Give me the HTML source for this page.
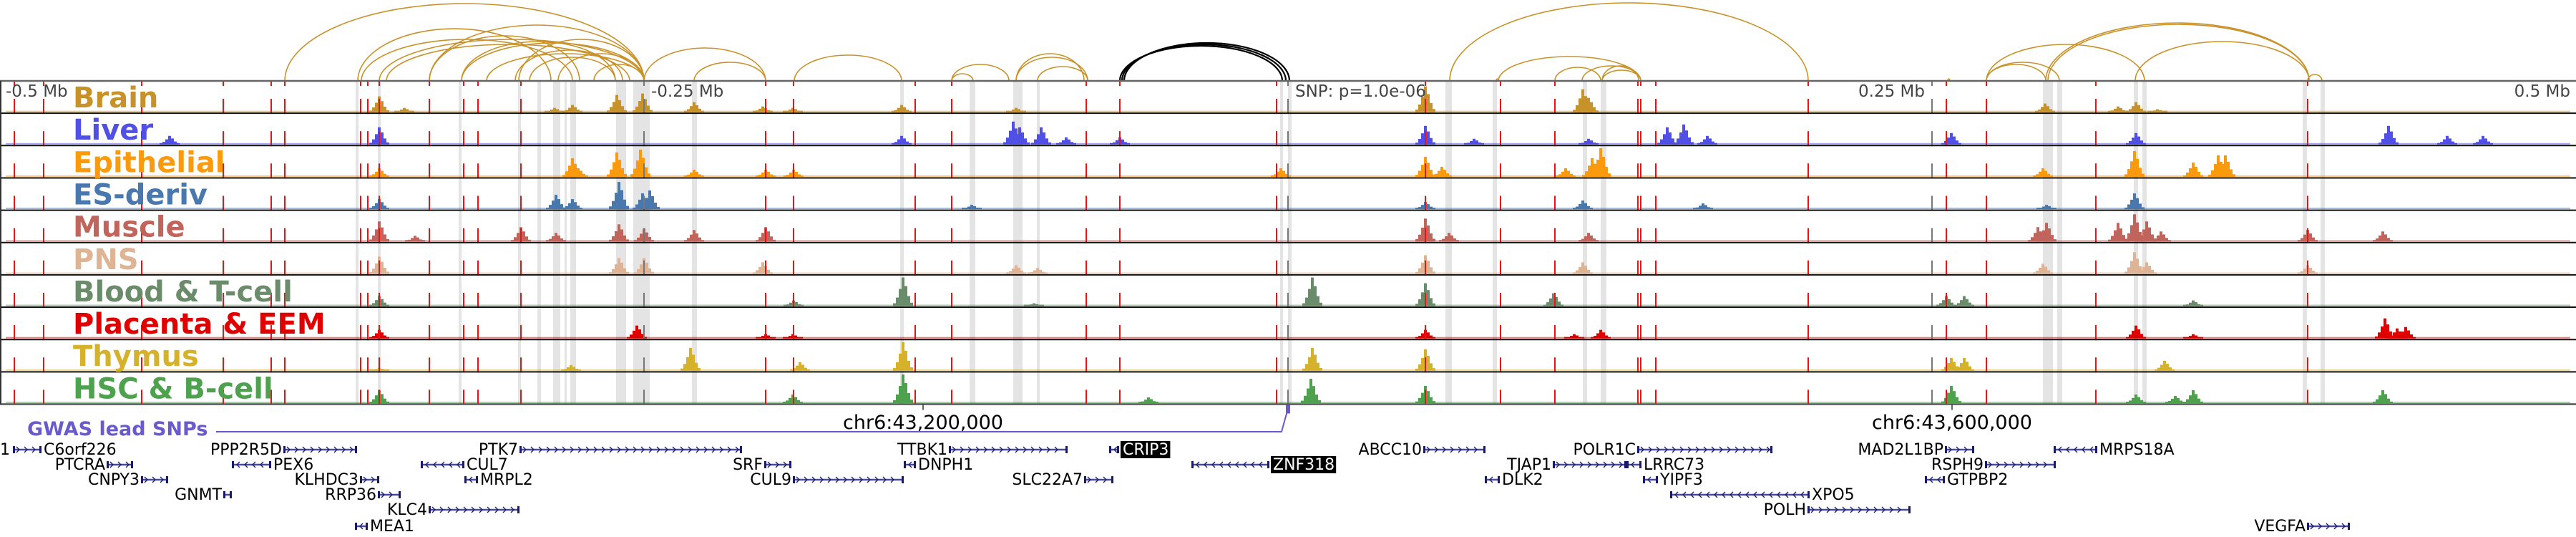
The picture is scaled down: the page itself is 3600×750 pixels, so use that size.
<!DOCTYPE html>
<html><head><meta charset="utf-8"><style>
html,body{margin:0;padding:0;background:#fff;}
svg{display:block;font-family:"DejaVu Sans","Liberation Sans",sans-serif;}
</style></head><body>
<svg id="chart" width="3600" height="750" viewBox="0 0 3600 750" xmlns="http://www.w3.org/2000/svg">
<g id="bands"></g>
<g id="arcs"></g>
<g id="tracks"></g>
<g id="vlines"></g>
<g id="frame"></g>
<g id="labels"></g>
<g id="axis"></g>
<g id="genes"></g>
</svg>
<script>
const NBINS = 3600;
const trackNames = ["Brain","Liver","Epithelial","ES-deriv","Muscle","PNS","Blood & T-cell","Placenta & EEM","Thymus","HSC & B-cell"];
const trackColors = ["#c8922a","#5050e6","#fb9a0c","#4878ae","#c0645c","#deb494","#6a8c6a","#e00000","#d6b22a","#4ea24e"];
const peaksBrain = [[530,.55],[565,.15],[775,.15],[800,.25],[862,.6],[898,.65],[970,.35],[1066,.2],[1108,.15],[1260,.25],[1420,.15],[1992,.9],[2212,.8],[2220,.5],[2858,.3],[2960,.2],[2985,.35],[3015,.1]];
const peaksLiver = [[237,.3],[530,.6],[1260,.3],[1416,.8],[1425,.6],[1455,.6],[1490,.25],[1565,.25],[1992,.65],[2060,.2],[2220,.2],[2330,.6],[2353,.7],[2386,.3],[2727,.4],[2985,.4],[3338,.65],[3420,.3],[3470,.3]];
const peaksEpi = [[530,.3],[800,.65],[808,.3],[862,.85],[895,.95],[970,.25],[1070,.25],[1109,.25],[1790,.3],[1992,.7],[2015,.35],[2188,.3],[2225,.65],[2237,1.0],[2855,.3],[2983,.9],[3065,.5],[3100,.75],[3110,.75]];
const peaksES = [[530,.35],[777,.5],[800,.35],[865,.95],[898,.55],[908,.65],[1358,.15],[1992,.25],[2212,.3],[2380,.2],[2860,.15],[2983,.55]];
const peaksMuscle = [[530,.7],[580,.2],[728,.5],[777,.3],[865,.6],[900,.45],[970,.4],[1070,.5],[1992,.8],[2025,.3],[2220,.3],[2848,.5],[2860,.65],[2960,.65],[2983,.95],[3000,.7],[3020,.35],[3225,.4],[3330,.35]];
const peaksPNS = [[530,.6],[865,.55],[900,.55],[1066,.4],[1420,.3],[1450,.2],[1992,.65],[2212,.4],[2855,.35],[2983,.75],[3000,.4],[3225,.3]];
const peaksBlood = [[530,.35],[1109,.2],[1262,1.0],[1445,.1],[1834,1.0],[1992,.8],[2171,.45],[2720,.35],[2745,.35],[3065,.2]];
const peaksPlacenta = [[530,.3],[890,.45],[1070,.15],[1108,.15],[1992,.3],[2200,.15],[2237,.3],[2985,.45],[3065,.15],[3333,.7],[3350,.35],[3362,.4]];
const peaksThymus = [[530,.1],[798,.2],[965,.8],[1118,.3],[1262,1.0],[1834,.8],[1992,.75],[2727,.45],[2745,.45],[3025,.35]];
const peaksHSC = [[530,.45],[1108,.3],[1262,1.0],[1605,.2],[1832,.85],[1992,.6],[2727,.6],[2985,.3],[3040,.25],[3065,.45],[3330,.45]];
const trackPeaks = [peaksBrain,peaksLiver,peaksEpi,peaksES,peaksMuscle,peaksPNS,peaksBlood,peaksPlacenta,peaksThymus,peaksHSC];
const variantPos = [20,61,198,312,379,398,504,514,530,600,648,668,728,1070,1109,1279,1330,1518,1565,1784,1992,2097,2173,2289,2293,2314,2527,2720,2776,2929,3225];
const markerPos = [900,1800,2700];
const bandStart = [497,528,641,724,751,773,789,797,861,885,967,1258,1355,1416,1449,1789,1800,2020,2086,2212,2237,2855,2875,2982,2994,3218,3243];
const bandEnd   = [501,532,645,728,756,783,792,805,875,908,974,1263,1363,1429,1453,1793,1805,2029,2092,2218,2245,2869,2882,2988,3000,3224,3249];
const arcsBrain = [[398,900,108],[500,770,73],[505,800,58],[530,900,58],[600,900,78],[645,900,53],[600,810,63],[645,860,55],[725,900,58],[720,870,43],[680,900,38],[740,860,33],[780,900,38],[540,880,51],[830,900,23],[900,1070,46],[970,1070,26],[1110,1260,36],[1330,1410,23],[1330,1360,10],[1420,1520,33],[1420,1515,38],[1450,1520,20],
  [2026,2527,109],[2094,2293,34],[2173,2237,19],[2239,2290,21],[2239,2293,15],[2211,2293,21],[2091,2094,3],[2722,2725,3],[2776,2997,51],[2776,2878,26],[2776,2859,23],[2859,3227,81],[2862,3227,79],[2984,3227,55],[3225,3245,9]];
const arcsSNP = [[1565,1792,49],[1568,1797,51],[1571,1802,53]];
const axisTicks = ["-0.5 Mb","-0.25 Mb","SNP: p=1.0e-06","0.25 Mb","0.5 Mb"];
const axisTickPos = [0,900,1800,2700,3600];
const coordLabels = ["chr6:43,200,000","chr6:43,600,000"];
const coordPos = [1290,2728];
const genes = [["C6orf226",1,18,58,1,"R",0],["PPP2R5D",1,396,499,1,"L",0],["PTK7",1,726,1037,1,"L",0],["TTBK1",1,1326,1492,1,"L",0],["CRIP3",1,1550,1564,-1,"R",1],["ABCC10",1,1989,2076,1,"L",0],["POLR1C",1,2288,2477,1,"L",0],["MAD2L1BP",1,2718,2759,1,"L",0],["MRPS18A",1,2870,2931,-1,"R",0],
["PTCRA",2,149,186,1,"L",0],["PEX6",2,324,379,-1,"R",0],["CUL7",2,588,649,-1,"R",0],["SRF",2,1068,1106,1,"L",0],["DNPH1",2,1263,1280,-1,"R",0],["ZNF318",2,1665,1774,-1,"R",1],["TJAP1",2,2170,2273,1,"L",0],["LRRC73",2,2273,2294,-1,"R",0],["RSPH9",2,2774,2873,1,"L",0],
["CNPY3",3,197,235,1,"L",0],["KLHDC3",3,503,530,1,"L",0],["MRPL2",3,649,668,-1,"R",0],["CUL9",3,1108,1263,1,"L",0],["SLC22A7",3,1515,1556,1,"L",0],["DLK2",3,2075,2096,-1,"R",0],["YIPF3",3,2296,2317,-1,"R",0],["GTPBP2",3,2690,2718,-1,"R",0],
["GNMT",4,312,324,1,"L",0],["RRP36",4,528,560,1,"L",0],["XPO5",4,2334,2529,-1,"R",0],
["KLC4",5,599,726,1,"L",0],["POLH",5,2526,2670,1,"L",0],
["MEA1",6,496,514,-1,"R",0],["VEGFA",6,3224,3284,1,"L",0]];

const W = 3600, TOP = 113, TH = 45.15, NT = 10, BOT = TOP + TH*NT;
const NS = "http://www.w3.org/2000/svg";
function x(p){ return p / NBINS * W; }
function ty(i){ return TOP + i*TH; }
function hScale(v){ return v * 40; }
function mk(tag, attrs, parent){ const e=document.createElementNS(NS,tag); for(const k in attrs) e.setAttribute(k,attrs[k]); parent.appendChild(e); return e; }
const G = id => document.getElementById(id);

bandStart.forEach((s,i)=>{
  const r = mk("rect",{x:x(s),y:TOP,width:Math.max(2,x(bandEnd[i])-x(s)),height:BOT-TOP,fill:"#e4e4e4"},G("bands"));
  
  
});

function drawArc(a,color,sw,parent){
  const x1=x(a[0]), x2=x(a[1]), rx=(x2-x1)/2, ry=a[2];
  return mk("path",{d:`M${x1},${TOP} A${rx},${ry} 0 0 1 ${x2},${TOP}`,fill:"none",stroke:color,"stroke-width":sw},parent);
}
arcsBrain.forEach(a=>{ const p=drawArc(a,"#c8922a",1.6,G("arcs"));
  
   });
arcsSNP.forEach(a=>{ const p=drawArc(a,"#000",2.2,G("arcs"));
  
   });

const offs=[-14,-10,-6,-2,2,6,10], mult=[.1,.3,.6,1,.7,.35,.12];
trackPeaks.forEach((peaks,t)=>{
  const g = mk("g",{},G("tracks"));
  
  
  const base = ty(t) + TH - 1.5, col = trackColors[t];
  mk("rect",{x:8,y:base-2,width:W-16,height:2,fill:col,opacity:.5},g);
  peaks.forEach(pk=>{
    offs.forEach((o,k)=>{
      const h = Math.max(2,hScale(pk[1]*mult[k]));
      const b = mk("rect",{x:x(pk[0])+o,y:base-h,width:4,height:h,fill:col},g);
      
      
    });
  });
});

function dashedLine(p,color,parent){
  for(let t=0;t<NT;t++){
    mk("line",{x1:x(p),x2:x(p),y1:ty(t)+25,y2:ty(t)+TH+1,stroke:color,"stroke-width":2},parent);
  }
  mk("line",{x1:x(p),x2:x(p),y1:TOP,y2:TOP+7,stroke:color,"stroke-width":2},parent);
}
variantPos.forEach(p=>{ const g=mk("g",{},G("vlines"));
  
  
  dashedLine(p,"#ee1111",g); });
markerPos.forEach(p=>{ const g=mk("g",{},G("vlines"));
  
  
  dashedLine(p,"#777",g); });

mk("line",{x1:0,x2:W,y1:TOP,y2:TOP,stroke:"#666","stroke-width":2.5},G("frame"));
for(let t=1;t<NT;t++) mk("line",{x1:0,x2:W,y1:ty(t),y2:ty(t),stroke:"#111","stroke-width":2},G("frame"));
mk("line",{x1:0,x2:W,y1:BOT,y2:BOT,stroke:"#555","stroke-width":2.5},G("frame"));
mk("line",{x1:1,x2:1,y1:TOP,y2:BOT,stroke:"#333","stroke-width":2},G("frame"));

trackNames.forEach((n,t)=>{
  const e = mk("text",{x:102,y:ty(t)+37,fill:trackColors[t],"font-size":40,"font-weight":"bold"},G("labels"));
  e.textContent=n;
  
  
});

axisTicks.forEach((s,i)=>{
  const px = x(axisTickPos[i]);
  let tx = px+10, anchor="start";
  if(i===0) tx=8;
  if(i===3){ tx=px-10; anchor="end"; }
  if(i===4){ tx=px-8; anchor="end"; }
  const e = mk("text",{x:tx,y:135,fill:"#444","font-size":23,"text-anchor":anchor},G("axis"));
  e.textContent=s;
  
  
});
coordLabels.forEach((s,i)=>{
  const px=x(coordPos[i]);
  mk("line",{x1:px,x2:px,y1:BOT,y2:BOT+8,stroke:"#333","stroke-width":1.5},G("axis"));
  const e = mk("text",{x:px,y:599,fill:"#000","font-size":27,"text-anchor":"middle"},G("axis"));
  e.textContent=s;
  
  
});
{
  const e = mk("text",{x:38,y:608,fill:"#6a5acd","font-size":27,"font-weight":"bold"},G("axis"));
  e.textContent="GWAS lead SNPs";
  
  
  const l = mk("polyline",{points:`302,603 1791,603 ${x(1800)},${BOT+6}`,fill:"none",stroke:"#6a5acd","stroke-width":2},G("axis"));
  
  
  const m = mk("rect",{x:x(1800)-3,y:BOT+1,width:6,height:12,fill:"#6a5acd"},G("axis"));
  
  
}

const rowBase=[0,635,656,677,698,719,742];
const edge = mk("text",{x:0,y:635,"font-size":22,fill:"#000"},G("genes"));
edge.textContent="1";


genes.forEach(gn=>{
  const [name,row,s,e,strand,side,boxed]=gn;
  const g = mk("g",{},G("genes"));
  
  
  const x1=x(s), x2=x(e), yb=rowBase[row], yc=yb-7;
  mk("line",{x1:x1,x2:x2,y1:yc,y2:yc,stroke:"#4a4a9a","stroke-width":2.5},g);
  mk("rect",{x:x1,y:yc-5,width:3,height:10,fill:"#1a1a6a"},g);
  mk("rect",{x:x2-3,y:yc-5,width:3,height:10,fill:"#1a1a6a"},g);
  for(let px=x1+8; px<x2-4; px+=11){
    const d = strand>0 ? `M${px-3},${yc-4} L${px+1},${yc} L${px-3},${yc+4}` : `M${px+3},${yc-4} L${px-1},${yc} L${px+3},${yc+4}`;
    mk("path",{d:d,fill:"none",stroke:"#1a1a6a","stroke-width":1.3},g);
  }
  const tx = side==="L" ? x1-2 : x2+3;
  const anchor = side==="L" ? "end" : "start";
  let box = null;
  if(boxed) box = mk("rect",{x:tx-1,y:yb-19,width:10,height:24,fill:"#000"},g);
  const t = mk("text",{x:tx+(boxed?2:0),y:yb,"font-size":22,fill:boxed?"#fff":"#000","text-anchor":anchor},g);
  t.textContent=name;
  if(box){ const bb=t.getBBox(); box.setAttribute("width", bb.width+5); }
});
</script>
</body></html>
